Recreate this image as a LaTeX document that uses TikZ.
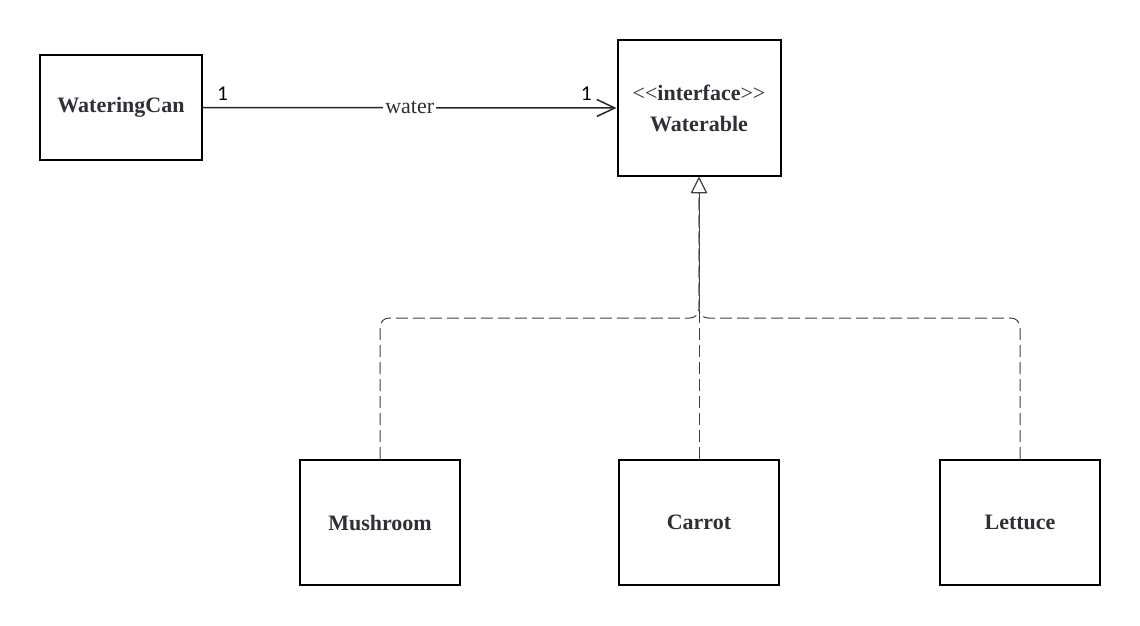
\documentclass[tikz,border=0pt]{standalone}
\usepackage{fontspec}
\setmainfont{Liberation Serif}
\newfontfamily\multfont{Lato}
\usetikzlibrary{arrows.meta}
\definecolor{ink}{HTML}{2D3036}
\begin{document}
\begin{tikzpicture}[x=0.5pt,y=-0.5pt,
  classbox/.style={draw=black, line width=1pt, fill=white, text=ink, align=center, inner sep=0pt,
    font=\fontsize{11}{14}\selectfont\bfseries},
  realize/.style={draw=black!75, line width=0.5pt, dash pattern=on 6pt off 2.5pt, rounded corners=4.5pt,
    -{Triangle[open, length=8pt, width=8pt, fill=white]}},
  assoc/.style={draw=black!85, line width=0.75pt, -{Straight Barb[length=9pt, width=8.5pt]}},
  mult/.style={font=\multfont\fontsize{9.5}{11}\selectfont, text=black, inner sep=0pt}]
  \useasboundingbox (0,0) rectangle (1140,626);
  % classes
  \node[classbox, minimum width=81pt, minimum height=52.5pt] (can) at (121,107.5) {WateringCan};
  \node[classbox, minimum width=81.5pt, minimum height=68pt] (iface) at (699,108)
    {{\mdseries <\kern0pt<}interface{\mdseries >\kern0pt>}\\[1.5pt]Waterable};
  \node[classbox, minimum width=80pt, minimum height=62.5pt] (mush) at (380,522.5) {Mushroom};
  \node[classbox, minimum width=80pt, minimum height=62.5pt] (carrot) at (699,522.5) {Carrot};
  \node[classbox, minimum width=80pt, minimum height=62.5pt] (lett) at (1020,522.5) {Lettuce};
  % association
  \draw[assoc] (can.east) -- node[fill=white, text=ink, inner sep=1pt, font=\fontsize{11}{13}\selectfont] (lbl) {water} (iface.west);
  \node[mult, anchor=south west] (m1) at ([xshift=7pt, yshift=3.5pt]can.east) {1};
  \node[mult, anchor=south east] (m2) at ([xshift=-12pt, yshift=3.5pt]iface.west) {1};
  % realization
  \coordinate (bus) at (699,318);
  \draw[realize] (mush.north) |- (bus) -- (iface.south);
  \draw[realize] (lett.north) |- (bus) -- (iface.south);
  \draw[realize] (carrot.north) -- (iface.south);
\end{tikzpicture}
\end{document}
